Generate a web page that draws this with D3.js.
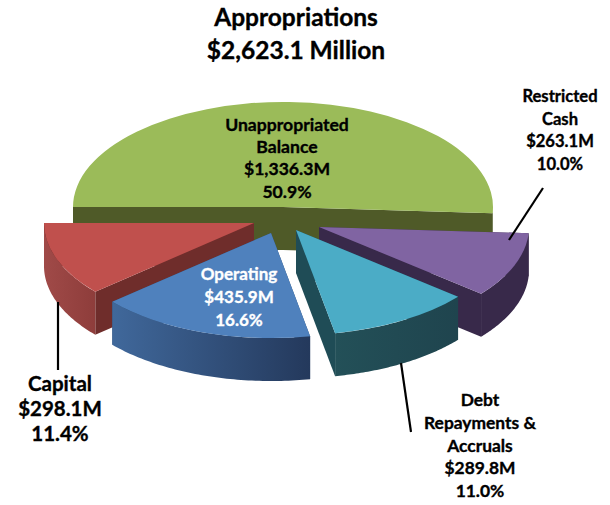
<!DOCTYPE html>
<html><head><meta charset="utf-8">
<script src="https://cdn.jsdelivr.net/npm/d3@7/dist/d3.min.js"></script>
<style>html,body{margin:0;padding:0;background:#fff}svg{display:block}
text{font-family:Lato,"Open Sans",sans-serif;font-weight:700;text-anchor:middle;stroke-width:.35px}</style>
</head><body><div id="c"></div>
<script>
const categories = ["Unappropriated Balance","Restricted Cash","Debt Repayments & Accruals","Operating","Capital"];
const values = [1336.3,263.1,289.8,435.9,298.1];
const percents = ["50.9%","10.0%","11.0%","16.6%","11.4%"];
const titleLines = ["Appropriations","$2,623.1 Million"];
const topColors = ["#9bbb59","#8064a2","#4bacc6","#4f81bd","#c0504d"];
const cutColors = ["#4f5a28","#38294a","#1f4c56","#2f4d71","#6f2d2b"];
const wallLeft = ["#4f5a28","#38294a","#235058","#40689b","#a04a48"];
const wallRight = ["#4f5a28","#38294a","#1f444e","#24395c","#8e3d3b"];
// apex of each exploded slice on the page
const apexX = [283,319,296,271,254];
const apexY = [207,227,230,233,223];
const drawOrder = [0,1,2,4,3];
const labelLines = [
 ["Unappropriated","Balance","$1,336.3M","50.9%"],
 ["Restricted","Cash","$263.1M","10.0%"],
 ["Debt","Repayments &","Accruals","$289.8M","11.0%"],
 ["Operating","$435.9M","16.6%"],
 ["Capital","$298.1M","11.4%"]];
const labelX = [287,560,480,239,60];
const labelY = [131,102,406,280,391];
const labelGap = [22.2,22.7,22.8,23,25];
const labelSize = [17.6,16.6,17.4,17,20.5];
const labelColor = ["#000","#000","#000","#fff","#000"];
const leaders = [[[58,302],[58,370]],[[543,188],[509,240]],[[401,363],[411,432]]];

const W=610,H=505,RX=210,RY=105,DEPTH=43;
const svg=d3.select("#c").append("svg").attr("width",W).attr("height",H);
const defs=svg.append("defs");
const arcs=d3.pie().sort(null).startAngle(-Math.PI/2).endAngle(Math.PI*1.5)(values);
const px=a=>RX*Math.sin(a), py=a=>-RY*Math.cos(a);
const topArc=d3.arc().innerRadius(0).outerRadius(RX);
const wall=d3.area().x(a=>px(a)).y0(a=>py(a)).y1(a=>py(a)+DEPTH);

drawOrder.forEach(i=>{
  const g=defs.append("linearGradient").attr("id","w"+i);
  g.append("stop").attr("offset",0).attr("stop-color",wallLeft[i]);
  g.append("stop").attr("offset",1).attr("stop-color",wallRight[i]);
  const a=arcs[i];
  const s=svg.append("g").attr("transform",`translate(${apexX[i]},${apexY[i]})`);
  // cut faces
  [a.startAngle,a.endAngle].forEach(t=>{
    s.append("path").attr("fill",cutColors[i])
     .attr("d",d3.line()([[0,0],[px(t),py(t)],[px(t),py(t)+DEPTH],[0,DEPTH]])+"Z");
  });
  // outer wall (front half only)
  const lo=Math.max(a.startAngle,Math.PI/2), hi=Math.min(a.endAngle,Math.PI*1.5);
  if(hi>lo){
    const steps=d3.range(lo,hi,(hi-lo)/60).concat(hi);
    s.append("path").attr("fill",`url(#w${i})`).attr("d",wall(steps));
  }
  s.append("path").attr("fill",topColors[i]).attr("transform",`scale(1,${RY/RX})`)
   .attr("d",topArc({startAngle:a.startAngle,endAngle:a.endAngle}));
});

leaders.forEach(l=>svg.append("path").attr("d",d3.line()(l)).attr("stroke","#000").attr("stroke-width",2.2).attr("fill","none"));

titleLines.forEach((t,i)=>svg.append("text").attr("x",296).attr("y",26+i*33).attr("font-size",24.5).attr("fill","#000").attr("stroke","#000").text(t));
labelLines.forEach((lines,i)=>lines.forEach((t,j)=>svg.append("text")
  .attr("x",labelX[i]).attr("y",labelY[i]+j*labelGap[i]).attr("font-size",labelSize[i]).attr("fill",labelColor[i]).attr("stroke",labelColor[i]).text(t)));
</script></body></html>
